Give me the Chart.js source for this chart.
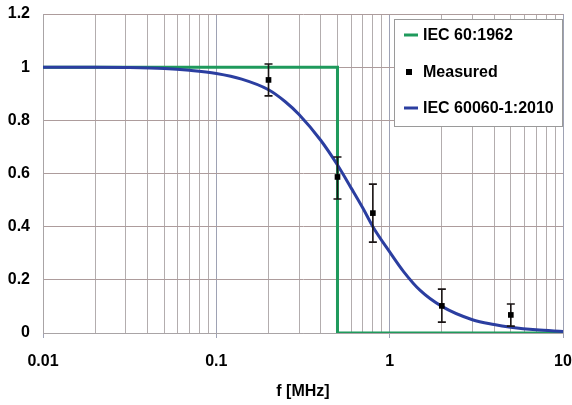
<!DOCTYPE html>
<html>
<head>
<meta charset="utf-8">
<script src="https://cdn.jsdelivr.net/npm/chart.js@4"></script>
<style>
  body { margin: 0; background: #fff; }
  #wrap { width: 572px; height: 405px; }
</style>
</head>
<body>
<div id="wrap"><canvas id="chart" width="572" height="405"></canvas></div>
<script>
// IEC 60:1962 step
const stepF = [0.01, 0.5, 0.5, 10];
const stepV = [1, 1, 0, 0];

// IEC 60060-1:2010 curve
const curveF = [0.01, 0.02, 0.03, 0.05, 0.07, 0.1, 0.14, 0.2, 0.25, 0.3, 0.4, 0.5, 0.6, 0.7, 0.8, 1, 1.2, 1.5, 2, 3, 4, 5, 7, 10];
const curveV = [1, 1, 0.999, 0.995, 0.988, 0.976, 0.955, 0.915, 0.87, 0.822, 0.725, 0.632, 0.545, 0.47, 0.40, 0.305, 0.232, 0.16, 0.10, 0.05, 0.032, 0.022, 0.012, 0.006];

// measured points with error ranges
const measF = [0.2, 0.5, 0.8, 2, 5];
const measV = [0.952, 0.587, 0.451, 0.102, 0.068];
const measLo = [0.892, 0.504, 0.342, 0.041, 0.026];
const measHi = [1.012, 0.662, 0.56, 0.165, 0.109];

const xTickLabels = ['0.01', '0.1', '1', '10'];

const GREEN = '#1f9a5c';
const BLUE = '#2b3ea0';
const FONT = '"Liberation Sans", Arial, sans-serif';

const toXY = (xs, ys) => xs.map((x, i) => ({ x: x, y: ys[i] }));

// gridline positions 1..9 x 10^n
const gridVals = [];
for (let e = -2; e <= 0; e++) {
  for (let m = 1; m <= 9; m++) gridVals.push(Number((m * Math.pow(10, e)).toPrecision(2)));
}
gridVals.push(10);

const isDecade = v => xTickLabels.includes(String(v));

const errorBars = {
  id: 'errorBars',
  beforeDatasetDraw(chart, args) {
    if (args.index !== 0) return;
    const { ctx, scales: { x, y } } = chart;
    ctx.save();
    ctx.strokeStyle = '#1a1414';
    ctx.lineWidth = 1.6;
    measF.forEach((f, i) => {
      const px = x.getPixelForValue(f);
      const top = y.getPixelForValue(measHi[i]);
      const bot = y.getPixelForValue(measLo[i]);
      ctx.beginPath();
      ctx.moveTo(px, top); ctx.lineTo(px, bot);
      ctx.moveTo(px - 4, top); ctx.lineTo(px + 4, top);
      ctx.moveTo(px - 4, bot); ctx.lineTo(px + 4, bot);
      ctx.stroke();
    });
    ctx.restore();
  }
};

const boxLegend = {
  id: 'boxLegend',
  afterDraw(chart) {
    const { ctx, chartArea: ca } = chart;
    const w = 169, h = 108;
    const bx = ca.right - w, by = ca.top + 5;
    ctx.save();
    ctx.fillStyle = '#fff';
    ctx.fillRect(bx, by, w, h);
    ctx.strokeStyle = '#9a9a9a';
    ctx.lineWidth = 1;
    ctx.strokeRect(bx + 0.5, by + 0.5, w - 1, h - 1);
    ctx.font = 'bold 16px ' + FONT;
    ctx.textBaseline = 'middle';
    ctx.fillStyle = '#000';
    const items = [
      { label: 'IEC 60:1962', kind: 'line', color: GREEN, dy: 16 },
      { label: 'Measured', kind: 'box', dy: 53 },
      { label: 'IEC 60060-1:2010', kind: 'line', color: BLUE, dy: 89 }
    ];
    items.forEach(it => {
      const cy = by + it.dy;
      if (it.kind === 'line') {
        ctx.strokeStyle = it.color;
        ctx.lineWidth = 3;
        ctx.beginPath();
        ctx.moveTo(bx + 10, cy); ctx.lineTo(bx + 24, cy);
        ctx.stroke();
      } else {
        ctx.fillStyle = '#000';
        ctx.fillRect(bx + 12, cy - 3, 6, 6);
      }
      ctx.fillStyle = '#000';
      ctx.fillText(it.label, bx + 29, cy + 1);
    });
    ctx.restore();
  }
};

new Chart(document.getElementById('chart'), {
  type: 'line',
  data: {
    datasets: [
      {
        label: 'Measured',
        data: toXY(measF, measV),
        showLine: false,
        pointStyle: 'rect',
        pointRadius: 4,
        backgroundColor: '#000',
        borderColor: '#000',
        borderWidth: 0
      },
      {
        label: 'IEC 60060-1:2010',
        data: toXY(curveF, curveV),
        borderColor: BLUE,
        borderWidth: 3,
        pointRadius: 0,
        cubicInterpolationMode: 'monotone'
      },
      {
        label: 'IEC 60:1962',
        data: toXY(stepF, stepV),
        borderColor: GREEN,
        borderWidth: 3,
        pointRadius: 0,
        tension: 0
      }
    ]
  },
  options: {
    responsive: false,
    animation: false,
    devicePixelRatio: 1,
    layout: { padding: { top: 14, right: 9, left: 0, bottom: 0 } },
    plugins: { legend: { display: false }, tooltip: { enabled: false } },
    scales: {
      x: {
        type: 'logarithmic',
        min: 0.01,
        max: 10,
        afterBuildTicks: s => { s.ticks = gridVals.map(v => ({ value: v })); },
        afterFit: s => { s.height = 72; s.paddingLeft = 0; s.paddingRight = 0; },
        border: { color: '#a9a4a6', width: 1 },
        grid: {
          color: ctx => (ctx.tick && isDecade(ctx.tick.value)) ? '#9ea2b4' : '#b3adae',
          lineWidth: 1,
          tickLength: 5,
          tickColor: ctx => (ctx.tick && isDecade(ctx.tick.value)) ? '#9ea2b4' : 'rgba(0,0,0,0)'
        },
        ticks: {
          autoSkip: false,
          maxRotation: 0,
          padding: 14,
          color: '#000',
          font: { family: FONT, size: 16, weight: 'bold' },
          callback: v => isDecade(v) ? String(v) : ''
        },
        title: {
          display: true,
          text: 'f [MHz]',
          color: '#000',
          font: { family: FONT, size: 16, weight: 'bold' },
          padding: { top: 8 }
        }
      },
      y: {
        min: 0,
        max: 1.2,
        afterFit: s => { s.width = 43; s.paddingTop = 0; s.paddingBottom = 0; },
        border: { color: '#a9a4a6', width: 1 },
        grid: { color: '#ad9c9c', lineWidth: 1, drawTicks: false },
        ticks: {
          stepSize: 0.2,
          padding: 13,
          color: '#000',
          font: { family: FONT, size: 16, weight: 'bold' },
          callback: v => String(Number(v.toFixed(1)))
        }
      }
    }
  },
  plugins: [errorBars, boxLegend]
});
</script>
</body>
</html>
